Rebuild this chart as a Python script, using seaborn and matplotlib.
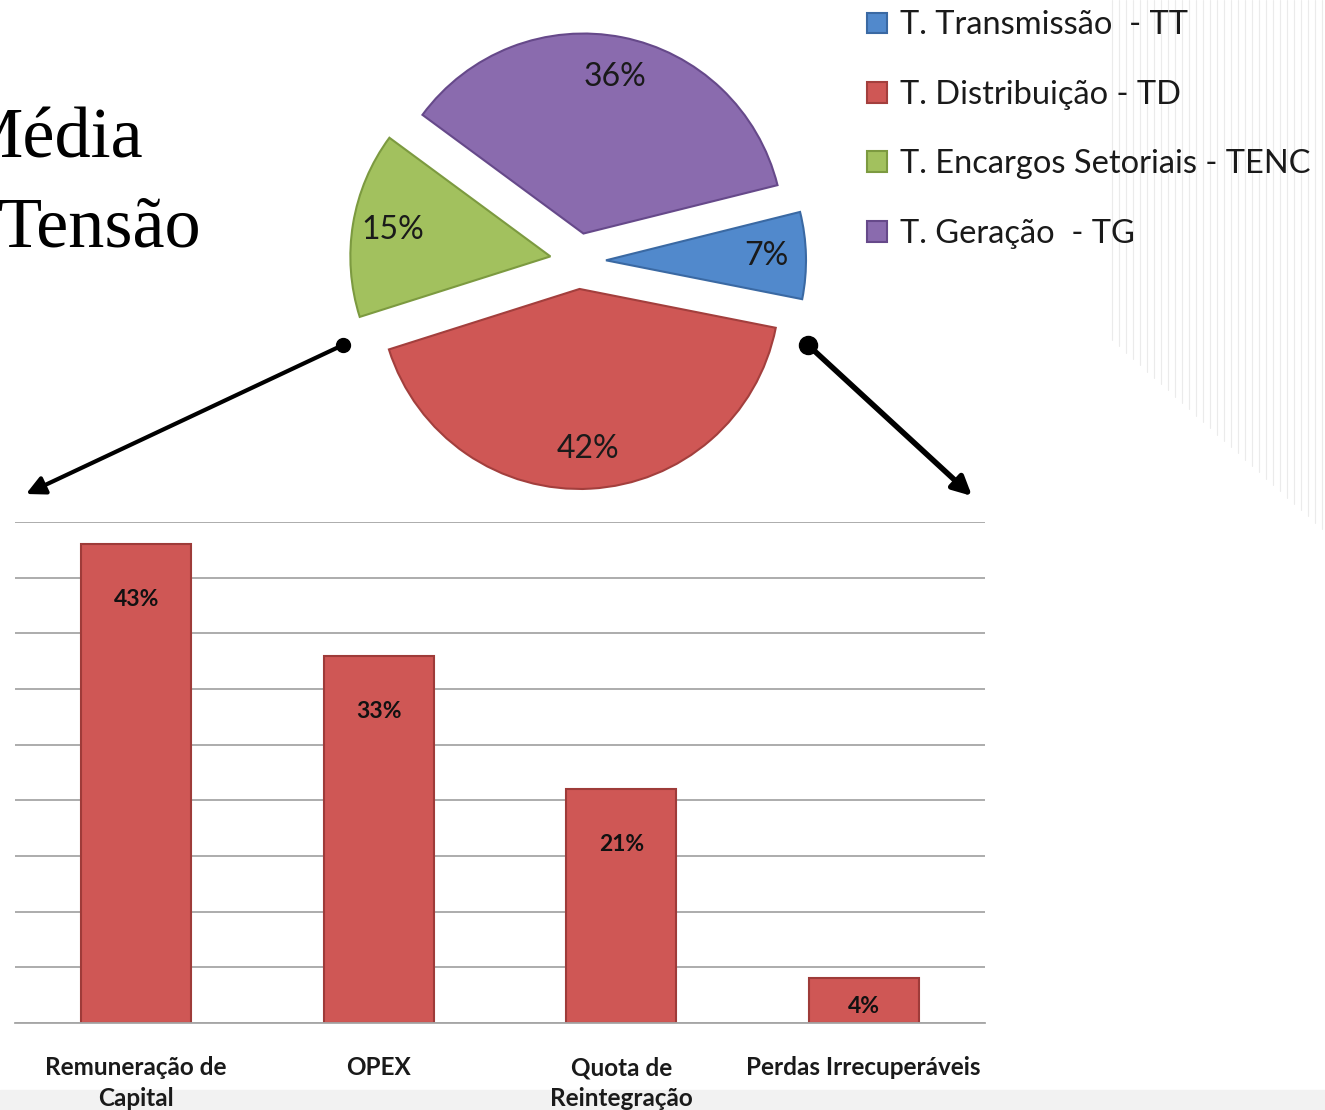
import matplotlib
matplotlib.use("Agg")
import matplotlib.pyplot as plt
import seaborn as sns
import pandas as pd
import numpy as np

# ---------------- data ----------------
pie_labels = ["T. Transmissão  - TT", "T. Distribuição - TD",
              "T. Encargos Setoriais - TENC", "T. Geração  - TG"]
pie_values = [7, 42, 15, 36]
pie_colors = ["#5189CC", "#CF5755", "#A2C15E", "#8A6BAE"]
pie_edges = ["#3A69A3", "#A33F3D", "#7C9A40", "#66498A"]

bar_categories = ["Remuneração de\nCapital", "OPEX", "Quota de\nReintegração",
                  "Perdas Irrecuperáveis"]
bar_values = [43, 33, 21, 4]
bar_labels = ["43%", "33%", "21%", "4%"]
bar_color = "#CF5755"
y_ticks = [0, 5, 10, 15, 20, 25, 30, 35, 40, 45]

title_line1 = "Média"
title_line2 = "Tensão"

# ---------------- figure ----------------
sns.set_theme(style="white")
plt.rcParams["font.family"] = ["Lato", "DejaVu Sans"]

W, H = 1325, 1110
fig = plt.figure(figsize=(W / 100, H / 100), dpi=100)
fig.patch.set_facecolor("white")

# background decoration (faint vertical lines at right)
ax_bg = fig.add_axes([0, 0, 1, 1], zorder=-5)
ax_bg.set_xlim(0, W)
ax_bg.set_ylim(H, 0)
ax_bg.axis("off")
for xv in np.arange(1112, W, 7):
    ax_bg.plot([xv, xv], [0, 340 + (xv - 1112) * 0.9], color="#EBEBEB", lw=0.8)
ax_bg.axhspan(1090, H, color="#F2F2F2")

# ---------------- bar chart ----------------
ax_bar = fig.add_axes([15 / W, 1 - 1023 / H, 970 / W, 501 / H])
df = pd.DataFrame({"cat": bar_categories, "val": bar_values})
sns.barplot(data=df, x="cat", y="val", ax=ax_bar, color=bar_color,
            width=0.455, edgecolor="#9E3B39", linewidth=1.5, saturation=1)
ax_bar.set_ylim(0, 45)
ax_bar.set_xlim(-0.5, 3.5)
ax_bar.set_yticks(y_ticks)
ax_bar.set_yticklabels([])
ax_bar.yaxis.grid(True, color="#A6A6A6", lw=1.3)
ax_bar.set_axisbelow(True)
ax_bar.tick_params(axis="y", length=0)
for s in ["left", "right", "top"]:
    ax_bar.spines[s].set_visible(False)
ax_bar.spines["bottom"].set_color("#A6A6A6")
ax_bar.spines["bottom"].set_linewidth(1.3)
ax_bar.set_xlabel("")
ax_bar.set_ylabel("")
ax_bar.set_xticks(range(len(bar_categories)))
ax_bar.set_xticklabels(bar_categories, fontsize=17.5, fontweight="bold",
                       color="#1A1A1A", linespacing=1.4)
ax_bar.tick_params(axis="x", which="major", length=0, pad=24)
ax_bar.set_xticks(np.arange(-0.5, 4, 1), minor=True)
ax_bar.tick_params(axis="x", which="minor", length=7, color="#A6A6A6", width=1.2)

for i, (v, lab) in enumerate(zip(bar_values, bar_labels)):
    ax_bar.text(i, v - min(5.0, v * 0.62), lab, ha="center", va="center",
                fontsize=16.5, fontweight="bold", color="#111111")

# ---------------- pie chart ----------------
ax_pie = fig.add_axes([318 / W, 1 - 521 / H, 520 / W, 520 / H])
wedges, texts, autotexts = ax_pie.pie(
    pie_values, explode=[0.14] * 4, colors=pie_colors, startangle=14,
    counterclock=False, autopct=lambda p: f"{p:.0f}%", pctdistance=0.8,
    radius=1, textprops=dict(fontsize=23, color="#1A1A1A"))
for w, ec in zip(wedges, pie_edges):
    w.set_edgecolor(ec)
    w.set_linewidth(1.5)
ax_pie.set_xlim(-1.3, 1.3)
ax_pie.set_ylim(-1.3, 1.3)
ax_pie.set_aspect("equal")
ax_pie.axis("off")

leg = fig.legend(wedges, pie_labels, loc="upper left",
                 bbox_to_anchor=(838 / W, 1 + 19 / H), frameon=False,
                 fontsize=23.5, handlelength=0.6, handleheight=0.6,
                 handletextpad=0.4, labelspacing=1.21)
for t in leg.get_texts():
    t.set_color("#1A1A1A")

# ---------------- title ----------------
fig.text(-41 / W, 1 - 158 / H, title_line1, fontsize=52,
         family="Liberation Serif", va="baseline", ha="left", color="black")
fig.text(-2 / W, 1 - 247 / H, title_line2, fontsize=52,
         family="Liberation Serif", va="baseline", ha="left", color="black")

# ---------------- arrows ----------------
ax_ov = fig.add_axes([0, 0, 1, 1], zorder=10)
ax_ov.set_xlim(0, W)
ax_ov.set_ylim(H, 0)
ax_ov.axis("off")
ax_ov.patch.set_alpha(0)
ax_ov.annotate("", xy=(26, 494), xytext=(343, 345),
               arrowprops=dict(arrowstyle="-|>", lw=3, color="black",
                               mutation_scale=28, shrinkA=0, shrinkB=0))
ax_ov.annotate("", xy=(972, 496), xytext=(808, 345),
               arrowprops=dict(arrowstyle="-|>", lw=4, color="black",
                               mutation_scale=28, shrinkA=0, shrinkB=0))
ax_ov.plot([343], [345], "o", ms=10, color="black")
ax_ov.plot([808], [345], "o", ms=13, color="black")

fig.savefig("out.png", dpi=100)
